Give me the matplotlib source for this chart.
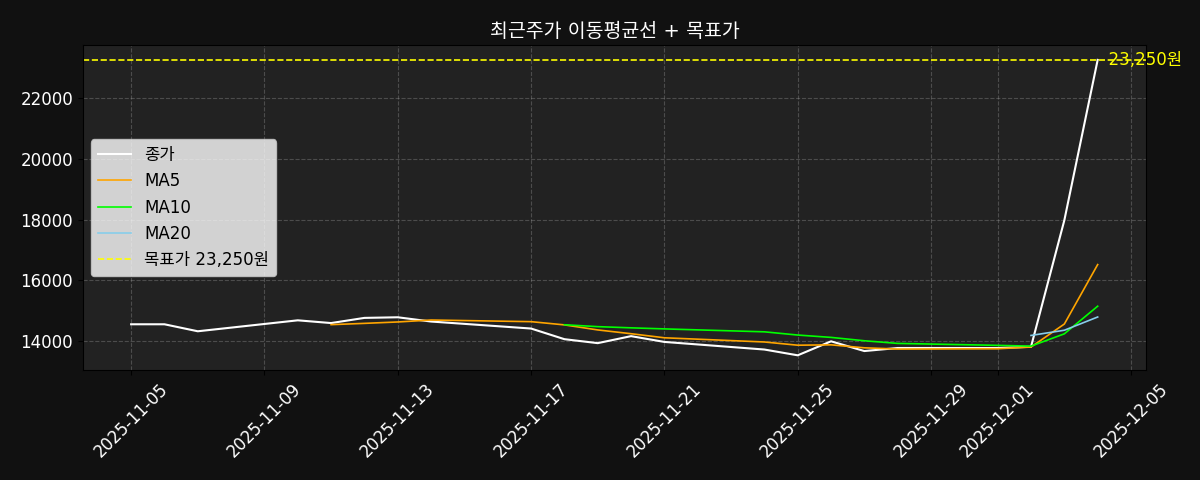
import matplotlib
matplotlib.use("Agg")
import matplotlib.pyplot as plt
import matplotlib.dates as mdates
import pandas as pd

plt.rcParams['font.family'] = ['DejaVu Sans', 'Noto Sans CJK KR']

dates = pd.to_datetime([
    "2025-11-05", "2025-11-06", "2025-11-07", "2025-11-10", "2025-11-11",
    "2025-11-12", "2025-11-13", "2025-11-14", "2025-11-17", "2025-11-18",
    "2025-11-19", "2025-11-20", "2025-11-21", "2025-11-24", "2025-11-25",
    "2025-11-26", "2025-11-27", "2025-11-28", "2025-12-01", "2025-12-02",
    "2025-12-03", "2025-12-04",
])
close = [14560, 14560, 14330, 14690, 14600, 14770, 14790, 14650, 14420, 14070,
         13940, 14170, 13980, 13730, 13540, 14000, 13680, 13780, 13780, 13820,
         17980, 23250]
# moving averages, first value at index 4 / 9 / 19
ma5 = [14548, 14590, 14636, 14700, 14646, 14540, 14374, 14250, 14116, 13978,
       13872, 13884, 13786, 13746, 13756, 13812, 14568, 16522]
ma10 = [14544, 14482, 14443, 14408, 14312, 14206, 14129, 14018, 13931, 13867,
        13842, 14246, 15154]
ma20 = [14193, 14364, 14799]
target = 23250

tick_dates = pd.to_datetime(["2025-11-05", "2025-11-09", "2025-11-13", "2025-11-17",
                             "2025-11-21", "2025-11-25", "2025-11-29", "2025-12-01",
                             "2025-12-05"])

fig, ax = plt.subplots(figsize=(12, 4.8), dpi=100)
fig.patch.set_facecolor('#111111')
ax.set_facecolor('#222222')

ax.plot(dates, close, color='white', lw=1.5, label='종가')
ax.plot(dates[4:], ma5, color='orange', lw=1.2, label='MA5')
ax.plot(dates[9:], ma10, color='lime', lw=1.2, label='MA10')
ax.plot(dates[19:], ma20, color='skyblue', lw=1.2, label='MA20')
ax.axhline(target, color='yellow', ls='--', lw=1.2, label=f'목표가 {target:,}원')
ax.text(dates[-1], target, f'  {target:,}원', color='yellow', va='center', fontsize=12)

ax.set_title('최근주가 이동평균선 + 목표가', color='white', fontsize=14)
ax.set_xticks(tick_dates)
ax.xaxis.set_major_formatter(mdates.DateFormatter('%Y-%m-%d'))
ax.tick_params(axis='both', labelcolor='white', labelsize=12)
plt.setp(ax.get_xticklabels(), rotation=45)
ax.grid(True, linestyle='--', alpha=0.3)
ax.legend(loc='center left', bbox_to_anchor=(0.0, 0.50), fontsize=12)

fig.subplots_adjust(left=0.069, right=0.955, top=0.906, bottom=0.229)
fig.savefig('out.png', facecolor=fig.get_facecolor())
